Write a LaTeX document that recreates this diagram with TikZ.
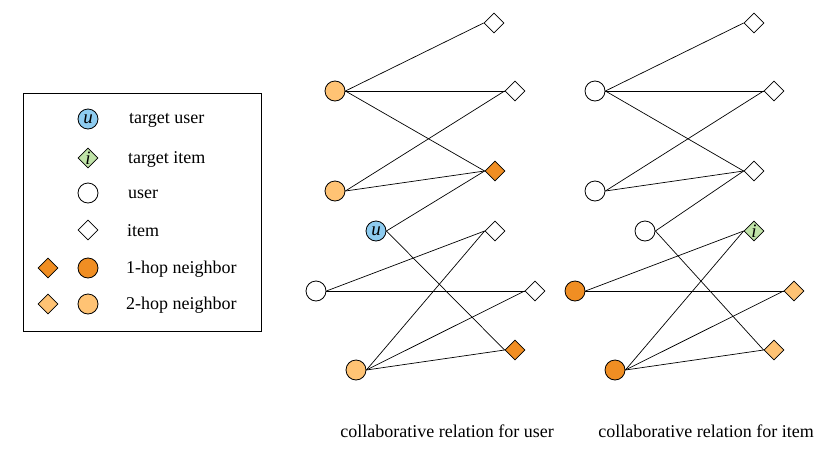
\documentclass[tikz,border=0pt]{standalone}
\usepackage{fontspec}
\setmainfont{Liberation Serif}
\usetikzlibrary{shapes.geometric}
\definecolor{tblue}{HTML}{8ECCF0}
\definecolor{tgreen}{HTML}{C0E3A8}
\definecolor{hopone}{HTML}{F08E23}
\definecolor{hoptwo}{HTML}{FFC374}
\begin{document}
\begin{tikzpicture}[x=1pt,y=-1pt,
  usr/.style={circle,draw=black,line width=0.8pt,minimum size=20pt,inner sep=0pt,fill=white},
  itm/.style={diamond,draw=black,line width=0.8pt,minimum size=20pt,inner sep=0pt,fill=white},
  edge/.style={line width=0.7pt},
  lbl/.style={anchor=west,font=\fontsize{18}{20}\selectfont,inner sep=0pt},
  captxt/.style={font=\fontsize{18}{20}\selectfont,inner sep=0pt},
  sym/.style={font=\fontsize{19}{19}\selectfont\itshape}]
\useasboundingbox (0,0) rectangle (824,450);
% legend
\node[draw=black,line width=0.8pt,minimum width=238pt,minimum height=238pt,inner sep=0pt] (legend) at (142,212) {};
\node[usr,fill=tblue,sym] (lu) at (88,119) {u};
\node[lbl] (tu) at (129,120) {target user};
\node[itm,fill=tgreen,sym] (li) at (88,158) {i};
\node[lbl] (ti) at (128,159) {target item};
\node[usr] (luser) at (88,193) {};
\node[lbl] (tuser) at (128,194) {user};
\node[itm] (litem) at (88,230) {};
\node[lbl] (titem) at (127,231) {item};
\node[itm,fill=hopone] (lh1d) at (48,268) {};
\node[usr,fill=hopone] (lh1c) at (88,268) {};
\node[lbl] (th1) at (126,269) {1-hop neighbor};
\node[itm,fill=hoptwo] (lh2d) at (48,304) {};
\node[usr,fill=hoptwo] (lh2c) at (88,304) {};
\node[lbl] (th2) at (126,305) {2-hop neighbor};
% left graph
\node[itm] (A) at (494,23) {};
\node[usr,fill=hoptwo] (U1) at (335,91) {};
\node[itm] (B) at (515,91) {};
\node[itm,fill=hopone] (C) at (495,171) {};
\node[usr,fill=hoptwo] (U2) at (335,191) {};
\node[usr,fill=tblue,sym] (U) at (376,231) {u};
\node[itm] (D) at (495,231) {};
\node[usr] (U3) at (316,291) {};
\node[itm] (E) at (535,291) {};
\node[itm,fill=hopone] (F) at (515,350) {};
\node[usr,fill=hoptwo] (U4) at (356,370) {};
\draw[edge] (U1.east) -- (A.west);
\draw[edge] (U1.east) -- (B.west);
\draw[edge] (U1.east) -- (C.west);
\draw[edge] (U2.east) -- (B.west);
\draw[edge] (U2.east) -- (C.west);
\draw[edge] (U.east) -- (C.west);
\draw[edge] (U.east) -- (F.west);
\draw[edge] (U3.east) -- (D.west);
\draw[edge] (U3.east) -- (E.west);
\draw[edge] (U4.east) -- (D.west);
\draw[edge] (U4.east) -- (E.west);
\draw[edge] (U4.east) -- (F.west);
% right graph
\node[itm] (A2) at (754,23) {};
\node[usr] (V1) at (595,91) {};
\node[itm] (B2) at (774,91) {};
\node[itm] (C2) at (754,171) {};
\node[usr] (V2) at (595,191) {};
\node[usr] (V3) at (645,231) {};
\node[itm,fill=tgreen,sym] (I) at (754,231) {i};
\node[usr,fill=hopone] (V4) at (575,291) {};
\node[itm,fill=hoptwo] (E2) at (794,291) {};
\node[itm,fill=hoptwo] (F2) at (774,350) {};
\node[usr,fill=hopone] (V5) at (615,370) {};
\draw[edge] (V1.east) -- (A2.west);
\draw[edge] (V1.east) -- (B2.west);
\draw[edge] (V1.east) -- (C2.west);
\draw[edge] (V2.east) -- (B2.west);
\draw[edge] (V2.east) -- (C2.west);
\draw[edge] (V3.east) -- (C2.west);
\draw[edge] (V3.east) -- (F2.west);
\draw[edge] (V4.east) -- (I.west);
\draw[edge] (V4.east) -- (E2.west);
\draw[edge] (V5.east) -- (I.west);
\draw[edge] (V5.east) -- (E2.west);
\draw[edge] (V5.east) -- (F2.west);
% captions
\node[captxt] (c1) at (447,431) {collaborative relation for user};
\node[captxt] (c2) at (706,431) {collaborative relation for item};
\end{tikzpicture}
\end{document}
